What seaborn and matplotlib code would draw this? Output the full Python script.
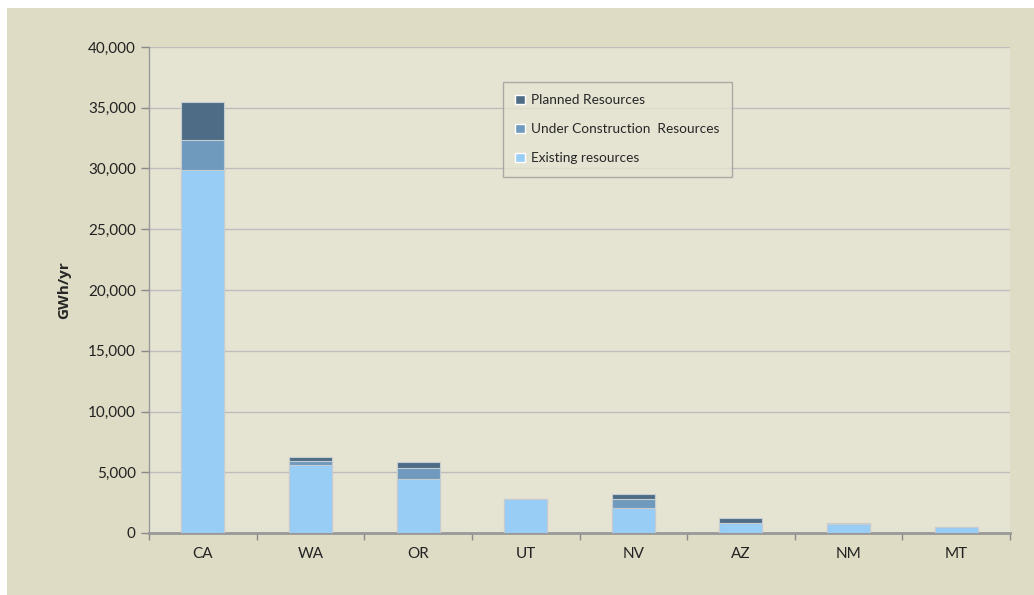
import numpy as np
import pandas as pd
import matplotlib
matplotlib.use('Agg')
import matplotlib.pyplot as plt
import seaborn as sns
from matplotlib.patches import Rectangle, Patch
from matplotlib.ticker import FuncFormatter, MultipleLocator

# data (GWh/yr)
states = ['CA', 'WA', 'OR', 'UT', 'NV', 'AZ', 'NM', 'MT']
existing = [29900, 5600, 4450, 2770, 2060, 800, 715, 490]
under_construction = [2450, 320, 900, 0, 740, 0, 0, 0]
planned = [3100, 310, 470, 0, 380, 460, 100, 0]

df = pd.DataFrame({'state': states, 'existing': existing,
                   'uc': under_construction, 'planned': planned})
df['top_uc'] = df['existing'] + df['uc']
df['top_planned'] = df['top_uc'] + df['planned']

c_planned = '#4e6c86'
c_uc = '#709abd'
c_exist = '#98cdf6'

sns.set_theme(style='white')
plt.rcParams['font.family'] = ['Lato', 'DejaVu Sans']

fig = plt.figure(figsize=(10.34, 5.95), dpi=100)
fig.patch.set_facecolor('white')
fig.patches.append(Rectangle((7 / 1034, 0), 1, 1 - 8 / 595, transform=fig.transFigure,
                             facecolor='#dedcc5', edgecolor='none', zorder=-10))

ax = fig.add_axes([149 / 1034, 1 - 533 / 595, 861 / 1034, 486 / 595])
ax.set_facecolor('#e5e4d3')

bw = 0.4
for col, color in [('top_planned', c_planned), ('top_uc', c_uc), ('existing', c_exist)]:
    sns.barplot(data=df, x='state', y=col, color=color, width=bw, ax=ax,
                edgecolor='#c6ccd0', linewidth=0.8, saturation=1, zorder=3)

ax.set_ylim(0, 40000)
ax.set_xlim(-0.5, len(states) - 0.5)
ax.yaxis.set_major_locator(MultipleLocator(5000))
ax.yaxis.set_major_formatter(FuncFormatter(lambda v, p: f'{int(v):,}'))
ax.grid(axis='y', color='#bdbdbd', linewidth=1, zorder=0)
ax.set_axisbelow(True)

ax.set_xlabel('')
ax.set_ylabel('GWh/yr', fontsize=11, fontweight='bold', family=['Open Sans', 'DejaVu Sans'],
              labelpad=12)
ax.tick_params(axis='both', labelsize=11, colors='#222222')
ax.tick_params(axis='y', length=6, width=1, color='#888888', direction='out', left=True)
ax.tick_params(axis='x', length=0, pad=10)
# category boundary ticks on x
ax.set_xticks(np.arange(-0.5, len(states)), minor=True)
ax.tick_params(axis='x', which='minor', length=5, width=1, color='#888888', bottom=True)

for s in ['top', 'right']:
    ax.spines[s].set_visible(False)
ax.spines['left'].set_color('#999999')
ax.spines['left'].set_linewidth(1)
ax.spines['bottom'].set_color('#999999')
ax.spines['bottom'].set_linewidth(2)

handles = [Patch(facecolor=c_planned, label='Planned Resources'),
           Patch(facecolor=c_uc, label='Under Construction  Resources'),
           Patch(facecolor=c_exist, label='Existing resources')]
leg = ax.legend(handles=handles, loc='upper left', bbox_to_anchor=(0.411, 0.928),
                fontsize=9.8, frameon=True, fancybox=False, handlelength=0.7,
                handleheight=0.7, handletextpad=0.5, labelspacing=1.25,
                borderpad=0.9, borderaxespad=0)
leg.get_frame().set_facecolor('#e5e4d3')
leg.get_frame().set_edgecolor('#999999')
leg.get_frame().set_linewidth(1)

fig.savefig('out.png', dpi=100)
